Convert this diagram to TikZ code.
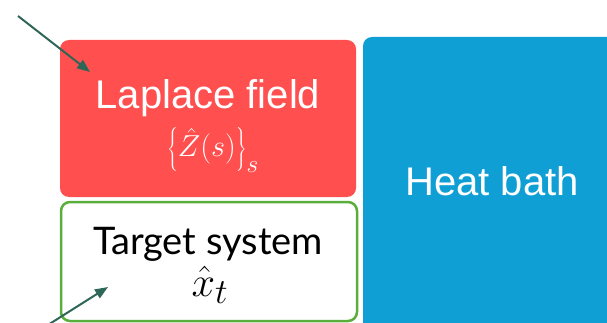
\RequirePackage{fix-cm}
\documentclass[tikz,border=0pt]{standalone}
\usepackage{fontspec}
\setmainfont{Liberation Sans}
\newfontfamily\gillfont{Lato}
\usetikzlibrary{arrows.meta}
\definecolor{lapred}{HTML}{FF4F4F}
\definecolor{bathblue}{HTML}{109FD4}
\definecolor{tgtgreen}{HTML}{5AAF3C}
\definecolor{arrowgreen}{HTML}{2E6657}
\tikzset{
  box/.style={rounded corners=9pt, inner sep=0pt, outer sep=0pt},
  bigtext/.style={inner sep=0pt, font=\fontsize{40}{48}\selectfont},
  mathtext/.style={inner sep=0pt, anchor=base, font=\fontsize{24.88}{30}\selectfont},
  pointer/.style={draw=arrowgreen, line width=2pt, -{Triangle[length=13pt,width=10pt]}}
}
\begin{document}
\begin{tikzpicture}[x=1pt,y=-1pt]
\useasboundingbox (0,0) rectangle (607,323);
\clip (0,0) rectangle (607,323);
% boxes
\path[box, fill=lapred] (60,40) rectangle (356,197);
\node[box, minimum width=296pt, minimum height=157pt] (lap) at (208,118.5) {};
\path[box, fill=bathblue] (363,37) rectangle (640,350);
\node[box, minimum width=277pt, minimum height=313pt] (bath) at (501.5,193.5) {};
\path[box, draw=tgtgreen, line width=2.5pt, fill=white] (61,202) rectangle (357,321);
\node[box, minimum width=296pt, minimum height=119pt] (tgt) at (209,261.5) {};
% texts
\node[bigtext, text=white, anchor=base] (laptxt) at (208,109) {Laplace field};
\node[mathtext, text=white, scale=1.22] (lapmath) at (213,157) {$\left\{\hat{Z}(s)\right\}_{s}$};
\node[bigtext, text=white, anchor=base] (bathtxt) at (492,196) {Heat bath};
\node[bigtext, text=black, anchor=base, font=\gillfont\fontsize{38}{46}\selectfont] (tgttxt) at (208,254) {Target system};
\node[mathtext, text=black, scale=1.7] (tgtmath) at (210,296) {$\hat{x}_{t}$};
% pointers
\coordinate (p1s) at (18,16);
\coordinate (p1e) at (90,72);
\coordinate (p2s) at (40,330);
\coordinate (p2e) at (108,287);
\draw[pointer] (p1s) -- (p1e);
\draw[pointer] (p2s) -- (p2e);
\end{tikzpicture}
\end{document}
